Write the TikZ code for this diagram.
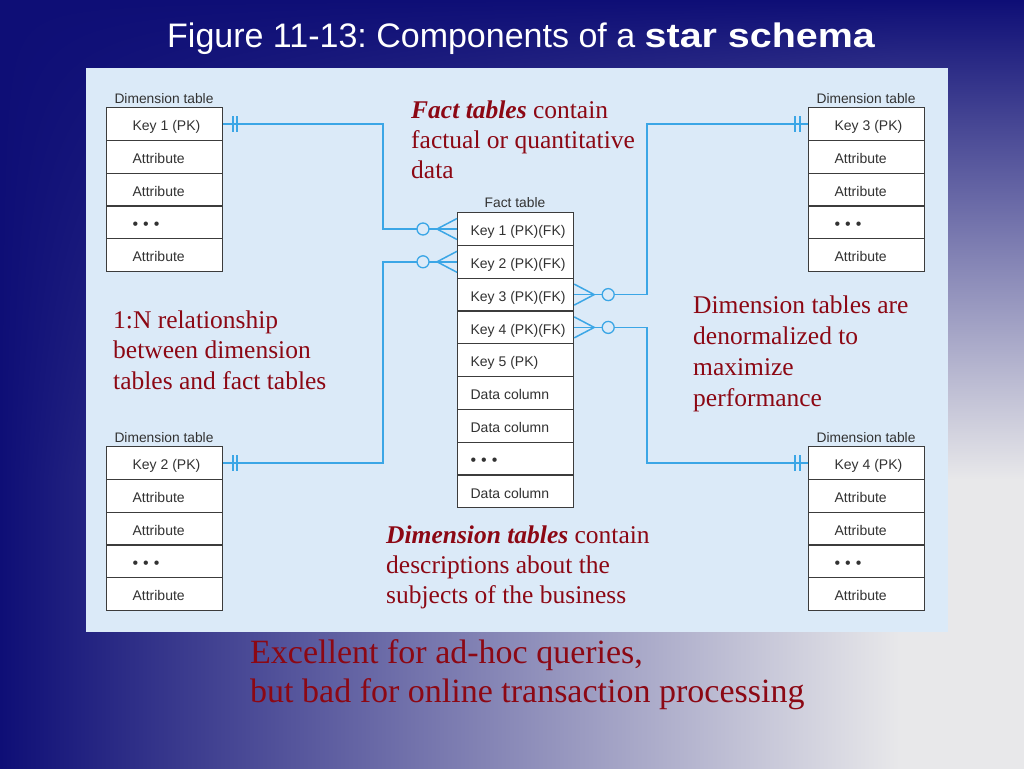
\documentclass[tikz,border=0pt]{standalone}
\usepackage{fontspec}
\setmainfont{Liberation Serif}
\setsansfont{Liberation Sans}
\usetikzlibrary{calc,shadings}
\frenchspacing
\definecolor{panel}{RGB}{219,234,248}
\definecolor{conn}{RGB}{59,166,230}
\definecolor{txtred}{RGB}{140,8,20}
\definecolor{cellline}{RGB}{60,60,60}
\definecolor{celltext}{RGB}{50,50,50}
\pgfdeclarefunctionalshading{bgshade}{\pgfpointorigin}{\pgfpoint{100bp}{100bp}}{}{
  exch 25 sub 0.02276 mul
  dup 1 gt {pop 1} if dup 0 lt {pop 0} if
  exch 75 exch sub 0.032 mul
  dup 1 gt {pop 1} if dup 0 lt {pop 0} if
  mul
  dup 0.8549 mul 0.0549 add
  exch dup 0.8549 mul 0.0549 add
  exch 0.4549 mul 0.4627 add
}
\newcommand\cellbox[2]{\makebox[90pt][l]{\hspace{#1}#2}}
\newcommand\threedots{{\fontsize{16}{16}\selectfont\textbullet\hspace{5pt}\textbullet\hspace{5pt}\textbullet}}
\newcommand\dimtable[4]{%
  \node[tlabel] (#1-lab) at (#2+58,#3-4) {Dimension table};
  \foreach \t [count=\i from 0] in {#4,Attribute,Attribute,\threedots,Attribute}
    \node[cell] (#1-\i) at (#2,#3+\i*32.8) {\cellbox{13pt}{\t}};
}
\begin{document}
\begin{tikzpicture}[x=1pt,y=-1pt,
  cell/.style={draw=cellline, line width=1.2pt, fill=white, anchor=north west,
    minimum width=116pt, minimum height=32.8pt, inner xsep=13pt, inner ysep=0pt,
    text height=16pt, text depth=2.8pt, font=\sffamily\fontsize{14}{16}\selectfont, text=celltext},
  tlabel/.style={font=\sffamily\fontsize{13.8}{16}\selectfont, text=celltext, inner sep=0pt, anchor=base},
  note/.style={font=\fontsize{25.5}{30}\selectfont, text=txtred, align=left, anchor=base west, inner sep=0pt},
  link/.style={draw=conn, line width=1.5pt},
  ring/.style={draw=conn, line width=1.3pt, fill=panel}]
\useasboundingbox (0,0) rectangle (1024,768);
\shade[shading=bgshade] (0,0) rectangle (1024,768);
\fill[panel] (86,68) rectangle (948,632);
\node[font=\sffamily\fontsize{34}{40}\selectfont, text=white, anchor=base west, inner sep=0pt] (title) at (167,48)
  {Figure 11-13: Components of a \scalebox{1.16}[1]{\textbf{star schema}}};

\dimtable{L1}{106}{107}{Key 1 (PK)}
\dimtable{L2}{106}{446}{Key 2 (PK)}
\dimtable{R1}{808}{107}{Key 3 (PK)}
\dimtable{R2}{808}{446}{Key 4 (PK)}

\node[tlabel] (F-lab) at (515,207) {Fact table};
\foreach \t [count=\i from 0] in {Key 1 (PK)(FK),Key 2 (PK)(FK),Key 3 (PK)(FK),Key 4 (PK)(FK),Key 5 (PK),Data column,Data column,\threedots,Data column}
  \node[cell] (F-\i) at (457,212+\i*32.8) {\cellbox{0pt}{\t}};

\coordinate (xl) at (383,0);
\coordinate (xr) at (647,0);
\draw[link] (L1-0.east) -- (L1-0.east -| xl) |- (F-0.west);
\draw[link] (L2-0.east) -- (L2-0.east -| xl) |- (F-1.west);
\draw[link] (R1-0.west) -- (R1-0.west -| xr) |- (F-2.east);
\draw[link] (R2-0.west) -- (R2-0.west -| xr) |- (F-3.east);

\foreach \n in {L1,L2} \foreach \d in {10,14}
  \draw[link] ([xshift=\d pt]\n-0.east) ++(0,-8) -- ++(0,16);
\foreach \n in {R1,R2} \foreach \d in {-13,-8}
  \draw[link] ([xshift=\d pt]\n-0.west) ++(0,-8) -- ++(0,16);

\foreach \n in {F-0,F-1} {
  \draw[link] ([yshift=10.5pt]\n.west) -- ([xshift=-20pt]\n.west) -- ([yshift=-10.5pt]\n.west);
  \draw[ring] ([xshift=-34pt]\n.west) circle[radius=6pt];
}
\foreach \n in {F-2,F-3} {
  \draw[link] ([yshift=10.5pt]\n.east) -- ([xshift=20pt]\n.east) -- ([yshift=-10.5pt]\n.east);
  \draw[ring] ([xshift=34pt]\n.east) circle[radius=6pt];
}

\node[note] (n1) at (411,178) {\textbf{\textit{Fact tables}} contain\\factual or quantitative\\data};
\node[note, font=\fontsize{25.5}{30.5}\selectfont] (n2) at (113,389) {1:N relationship\\between dimension\\tables and fact tables};
\node[note, font=\fontsize{25.5}{30.7}\selectfont] (n3) at (693,406) {Dimension tables are\\denormalized to\\maximize\\performance};
\node[note] (n4) at (386,603) {\textbf{\textit{Dimension tables}} contain\\descriptions about the\\subjects of the business};
\node[note, font=\fontsize{34}{38.5}\selectfont] (n5) at (250,702)
  {Excellent for ad-hoc queries,\\but bad for online transaction processing};
\end{tikzpicture}
\end{document}
